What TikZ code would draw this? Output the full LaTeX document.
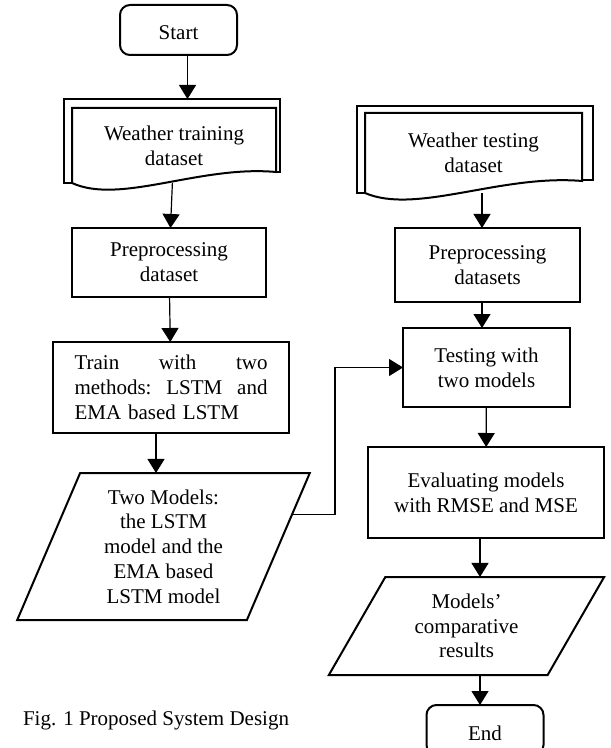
\documentclass[tikz,border=0pt]{standalone}
\usepackage{fontspec}
\setmainfont{Liberation Serif}
\usetikzlibrary{shapes.geometric,arrows.meta}

\begin{document}
\begin{tikzpicture}[x=0.5pt,y=-0.5pt,
    every node/.style={font=\fontsize{10.5}{12.4}\selectfont,inner sep=0pt,outer sep=0pt},
    frame/.style={line width=1pt},
    term/.style={frame,draw,rectangle,rounded corners=5pt,minimum width=58.5pt,minimum height=25pt,text height=10pt,text depth=0pt},
    box/.style={frame,draw,rectangle,align=center},
    io/.style={frame,draw,trapezium,trapezium stretches=true,align=center},
    doc/.style={rectangle,align=center},
    arr/.style={line width=0.6pt,-{Triangle[length=7pt,width=8.5pt]}}]
  \useasboundingbox (0,0) rectangle (610,748);

  % left column
  \node[term] (start) at (178.5,30) {Start};

  \node[doc,minimum width=102pt,minimum height=37.5pt] (wtrain) at (174,145.5) {Weather training\\dataset};
  \draw[frame] (wtrain.south west) -- ++(-8,0) -- ++(0,-84) coordinate (wtrain-top) -- ++(216,0) -- ++(0,73) -- ++(-4,0);
  \draw[frame] (wtrain.south west) |- (wtrain.north east) -- ++(0,64) .. controls +(-76,-7) and +(48,22) .. (wtrain.south west);

  \node[box,minimum width=97pt,minimum height=34.5pt] (prep1) at (169,262.5) {Preprocessing\\dataset};

  \node[box,minimum width=118pt,minimum height=45.5pt,text width=96.5pt,align=left] (train) at (171,387.5)
    {Train\hfill with\hfill two\\methods:\hfill LSTM\hfill and\\EMA based LSTM};

  \node[io,trapezium left angle=68.5,trapezium right angle=111.5,minimum width=146.5pt,minimum height=73.5pt] (two) at (163.5,546.5)
    {Two Models:\\the LSTM\\model and the\\EMA based\\LSTM model};

  \node[anchor=base west] (cap) at (23,725) {Fig. 1 Proposed System Design};

  % right column
  \node[doc,minimum width=108.5pt,minimum height=40pt] (wtest) at (473.5,153) {Weather testing\\dataset};
  \draw[frame] (wtest.south west) -- ++(-8,0) -- ++(0,-87) -- ++(236,0) -- ++(0,74) -- ++(-11,0);
  \draw[frame] (wtest.south west) |- (wtest.north east) -- ++(0,68) .. controls +(-81,-7) and +(51,22) .. (wtest.south west);

  \node[box,minimum width=92.5pt,minimum height=37pt] (prep2) at (487.5,265) {Preprocessing\\datasets};

  \node[box,minimum width=83.5pt,minimum height=39.5pt] (test) at (486.5,367.5) {Testing with\\two models};

  \node[box,minimum width=118pt,minimum height=45.5pt] (eval) at (486,492.5) {Evaluating models\\with RMSE and MSE};

  \node[io,trapezium left angle=60.7,trapezium right angle=119.3,minimum width=138.5pt,minimum height=49pt] (models) at (466.5,626)
    {Models'\\comparative\\results};

  \node[term] (end) at (485,730) {End};

  % connectors
  \draw[arr] ([xshift=4.5pt]start.south) -- ([xshift=4.5pt]start.south |- wtrain-top);
  \draw[arr] (wtrain) -- (prep1);
  \draw[arr] (prep1) -- (train);
  \draw[arr] ([xshift=-7.5pt]train.south) -- ([xshift=-7.5pt]train.south |- two.north);
  \draw[arr] (two.14) -- ++(43,0) |- (test);
  \draw[arr] ([xshift=-2.75pt]prep2.north |- wtest.south) -- ([xshift=-2.75pt]prep2.north);
  \draw[arr] ([xshift=-2.75pt]prep2.south) -- ([xshift=-2.75pt]prep2.south |- test.north);
  \draw[arr] (test) -- (eval);
  \draw[arr] ([xshift=-3pt]eval.south) -- ([xshift=-3pt]eval.south |- models.north);
  \draw[arr] ([xshift=-2.5pt]end.north |- models.south) -- ([xshift=-2.5pt]end.north);
\end{tikzpicture}
\end{document}
